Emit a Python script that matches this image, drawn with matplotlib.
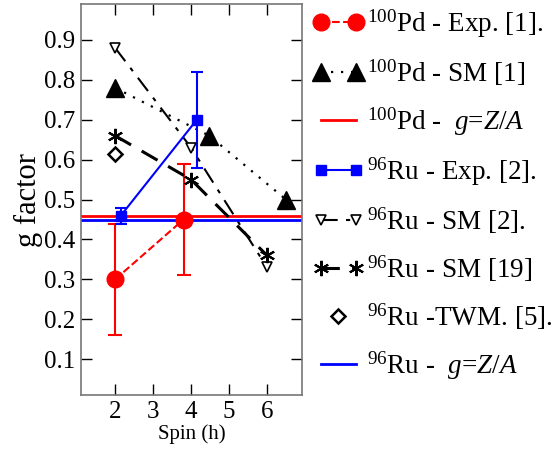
import matplotlib
matplotlib.use('Agg')
import matplotlib.pyplot as plt
from matplotlib.lines import Line2D
from matplotlib.legend_handler import HandlerLine2D

plt.rcParams['font.family'] = ['Liberation Serif', 'DejaVu Serif']
plt.rcParams['mathtext.fontset'] = 'custom'
plt.rcParams['mathtext.rm'] = 'Liberation Serif'
plt.rcParams['mathtext.it'] = 'Liberation Serif:italic'

# data
pd_exp_x = [2.0, 3.8]
pd_exp_y = [0.30, 0.45]
pd_exp_err = [0.14, 0.14]

pd_sm_x = [2.0, 4.48, 6.5]
pd_sm_y = [0.78, 0.66, 0.50]

pd_za = 0.46

ru_exp_x = [2.15, 4.15]
ru_exp_y = [0.46, 0.70]
ru_exp_err = [0.02, 0.12]

ru_sm2_x = [2.0, 4.0, 6.0]
ru_sm2_y = [0.88, 0.63, 0.33]

ru_sm19_x = [2.0, 4.0, 6.0]
ru_sm19_y = [0.66, 0.55, 0.36]

ru_twm_x = [2.0]
ru_twm_y = [0.615]

ru_za = 0.45

xticks = [2, 3, 4, 5, 6]
yticks = [0.1, 0.2, 0.3, 0.4, 0.5, 0.6, 0.7, 0.8, 0.9]

labels = [r'$^{100}$Pd - Exp. [1].', r'$^{100}$Pd - SM [1]',
          r'$^{100}$Pd -  $g$=$Z/A$', r'$^{96}$Ru - Exp. [2].',
          r'$^{96}$Ru - SM [2].', r'$^{96}$Ru - SM [19]',
          r'$^{96}$Ru -TWM. [5].', r'$^{96}$Ru -  $g$=$Z/A$']

fig = plt.figure(figsize=(5.53, 4.5), dpi=100)
ax = fig.add_axes([0.1465, 0.122, 0.3995, 0.869])

st_pd_exp = dict(color='red', ls='--', lw=1.5, marker='o', ms=12)
st_pd_sm = dict(color='black', ls=(0, (1, 3.5)), lw=1.6, marker='^', ms=13)
st_ru_exp = dict(color='blue', ls='-', lw=1.5, marker='s', ms=7)
st_ru_sm2 = dict(color='black', ls=(0, (8, 4, 2, 4)), lw=1.5, marker='v', ms=7,
                 mfc='white', mew=1.2)
st_ru_sm19 = dict(color='black', ls=(0, (6, 4)), lw=2.2, marker=(6, 2, 0), ms=11, mew=1.5)
st_ru_twm = dict(color='black', ls='none', marker='D', ms=7, mfc='white', mew=1.8)

ax.errorbar(pd_exp_x, pd_exp_y, yerr=pd_exp_err, capsize=5, elinewidth=1.5,
            capthick=1.5, **st_pd_exp)
ax.plot(pd_sm_x, pd_sm_y, **st_pd_sm)
ax.axhline(pd_za, color='red', lw=2)
ax.errorbar(ru_exp_x, ru_exp_y, yerr=ru_exp_err, capsize=4, elinewidth=1.5,
            capthick=1.5, **st_ru_exp)
ax.plot(ru_sm2_x, ru_sm2_y, **st_ru_sm2)
ax.plot(ru_sm19_x, ru_sm19_y, **st_ru_sm19)
ax.plot(ru_twm_x, ru_twm_y, **st_ru_twm)
ax.axhline(ru_za, color='blue', lw=2)

ax.set_xlim(1.1, 6.92)
ax.set_ylim(0.01, 0.99)
ax.set_xticks(xticks)
ax.set_yticks(yticks)
ax.set_xticklabels([str(v) for v in xticks], fontfamily='Liberation Serif', fontsize=18)
ax.set_yticklabels([f'{v:.1f}' for v in yticks], fontfamily='Liberation Serif', fontsize=18)
ax.tick_params(direction='in', length=8, width=1, pad=4, top=True, right=True)
for s in ax.spines.values():
    s.set_color('#777777')
    s.set_linewidth(1.2)
ax.set_xlabel('Spin (h)', fontsize=15, labelpad=1)
ax.set_ylabel('g factor', fontsize=22, labelpad=1)

handles = [Line2D([], [], **st_pd_exp), Line2D([], [], **st_pd_sm),
           Line2D([], [], color='red', lw=2), Line2D([], [], **st_ru_exp),
           Line2D([], [], **st_ru_sm2), Line2D([], [], **st_ru_sm19),
           Line2D([], [], **st_ru_twm), Line2D([], [], color='blue', lw=2)]

fig.legend(handles, labels, loc='upper left',
           bbox_to_anchor=(0.563, 0.986), frameon=False, fontsize=19.5, numpoints=2,
           handlelength=1.9, handletextpad=0.12, labelspacing=0.645, borderaxespad=0,
           borderpad=0.05,
           handler_map={handles[6]: HandlerLine2D(numpoints=1)})

fig.savefig('out.png', dpi=100)
